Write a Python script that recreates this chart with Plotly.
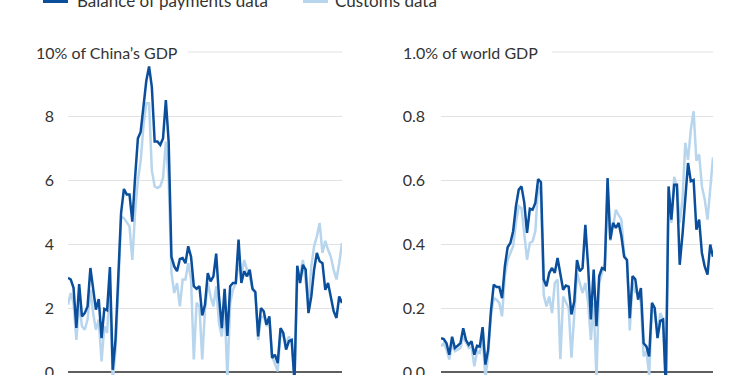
import pandas as pd
import plotly.graph_objects as go
from plotly.subplots import make_subplots

# ---- data ----
bop_china_gdp = [2.94, 2.89, 2.63, 1.38, 2.75, 1.74, 1.84, 2.05, 3.25, 2.68,
                 1.95, 2.28, 1.06, 1.97, 1.93, 3.28, 0.07, 1.0, 2.78, 4.97,
                 5.72, 5.55, 5.55, 4.7, 6.1, 7.3, 7.5, 8.4, 9.1, 9.55,
                 8.9, 7.2, 7.2, 7.1, 7.3, 8.5, 7.2, 3.6, 3.3, 3.15,
                 3.53, 3.56, 3.4, 3.93, 3.6, 2.68, 2.6, 2.68, 1.77, 2.1,
                 3.09, 2.83, 2.99, 3.7, 2.36, 1.37, 2.6, 1.13, 2.68, 2.78,
                 2.78, 4.14, 2.78, 3.15, 2.99, 3.2, 2.6, 2.5, 1.11, 2.0,
                 1.9, 1.48, 1.74, 0.44, 0.54, 0.28, 1.37, 1.22, 0.7, 0.96,
                 1.0, -0.3, 3.32, 2.78, 3.35, 3.2, 1.84, 2.36, 3.2, 3.72,
                 3.46, 3.4, 2.57, 2.78, 2.31, 1.9, 1.69, 2.36, 2.16]
customs_china_gdp = [2.1, 2.47, 2.15, 1.0, 2.15, 1.43, 1.32, 1.64, 2.57, 1.84,
                     1.32, 1.64, 0.33, 1.43, 1.22, 2.78, -0.3, 0.7, 2.57, 4.86,
                     4.81, 4.66, 4.55, 3.5, 5.0, 6.0, 6.6, 7.7, 8.4, 8.4,
                     6.3, 5.8, 5.75, 5.8, 6.06, 7.2, 6.0, 3.1, 2.47, 2.78,
                     2.05, 2.89, 2.89, 3.4, 2.9, 0.39, 2.16, 2.05, 0.39, 1.95,
                     2.78, 2.36, 2.05, 2.68, 1.53, 1.11, 2.1, -0.2, 2.16, 2.57,
                     2.78, 3.4, 2.99, 3.5, 3.2, 2.99, 2.57, 2.47, 1.0, 1.7,
                     1.74, 1.43, 1.64, 0.49, 0.28, 0.02, 1.22, 1.11, 0.9, 1.11,
                     0.9, -0.3, 2.89, 2.99, 3.5, 2.89, 2.16, 3.3, 3.93, 4.24,
                     4.66, 3.72, 4.1, 3.82, 3.6, 3.2, 2.89, 3.4, 4.03]
bop_world_gdp = [0.106, 0.103, 0.09, 0.054, 0.11, 0.075, 0.082, 0.09, 0.137, 0.10,
                 0.085, 0.096, 0.054, 0.082, 0.08, 0.14, 0.023, 0.07, 0.19, 0.273,
                 0.266, 0.266, 0.231, 0.33, 0.39, 0.403, 0.44, 0.518, 0.57, 0.58,
                 0.53, 0.435, 0.51, 0.507, 0.528, 0.603, 0.593, 0.289, 0.268, 0.31,
                 0.325, 0.31, 0.356, 0.30, 0.257, 0.27, 0.267, 0.18, 0.22, 0.35,
                 0.315, 0.325, 0.46, 0.33, 0.164, 0.32, 0.143, 0.30, 0.325, 0.32,
                 0.606, 0.414, 0.466, 0.45, 0.466, 0.424, 0.36, 0.35, 0.168, 0.30,
                 0.29, 0.226, 0.262, 0.09, 0.08, 0.049, 0.216, 0.20, 0.106, 0.16,
                 0.164, -0.05, 0.58, 0.476, 0.585, 0.585, 0.335, 0.43, 0.55, 0.653,
                 0.596, 0.60, 0.445, 0.476, 0.372, 0.33, 0.304, 0.398, 0.36]
customs_world_gdp = [0.08, 0.09, 0.07, 0.039, 0.09, 0.065, 0.07, 0.075, 0.11, 0.09,
                     0.075, 0.08, 0.018, 0.065, 0.06, 0.106, -0.02, 0.054, 0.174, 0.231,
                     0.226, 0.216, 0.174, 0.30, 0.35, 0.372, 0.393, 0.466, 0.518, 0.512,
                     0.424, 0.351, 0.403, 0.408, 0.44, 0.58, 0.55, 0.242, 0.205, 0.236,
                     0.184, 0.278, 0.289, 0.04, 0.236, 0.216, 0.20, 0.045, 0.18, 0.31,
                     0.278, 0.247, 0.278, 0.216, 0.10, 0.216, -0.02, 0.278, 0.31, 0.34,
                     0.56, 0.41, 0.455, 0.507, 0.49, 0.476, 0.367, 0.346, 0.13, 0.278,
                     0.25, 0.247, 0.216, 0.049, 0.065, -0.01, 0.205, 0.184, 0.122, 0.184,
                     0.164, -0.03, 0.56, 0.466, 0.61, 0.58, 0.466, 0.54, 0.716, 0.663,
                     0.757, 0.815, 0.66, 0.68, 0.58, 0.54, 0.476, 0.57, 0.67]
quarters = pd.date_range("1999-01-01", periods=len(bop_china_gdp), freq="QS")

left_ticks = [0, 2, 4, 6, 8]
right_ticks = [0.0, 0.2, 0.4, 0.6, 0.8]
right_ticktext = ["0.0", "0.2", "0.4", "0.6", "0.8"]
left_top_label = "10% of China\u2019s GDP"
right_top_label = "1.0% of world GDP"
series_names = ["Balance of payments data", "Customs data"]

DARK = "#0b4f9c"
LIGHT = "#b8d5ee"
TEXT = "#333333"
GRID = "#e2e2e2"
FONT = "Lato"
W, H = 750, 375

fig = make_subplots(rows=1, cols=2)

fig.add_trace(go.Scatter(x=quarters, y=customs_china_gdp, mode="lines",
                         line=dict(color=LIGHT, width=2.5), showlegend=False), 1, 1)
fig.add_trace(go.Scatter(x=quarters, y=bop_china_gdp, mode="lines",
                         line=dict(color=DARK, width=2.5), showlegend=False), 1, 1)
fig.add_trace(go.Scatter(x=quarters, y=customs_world_gdp, mode="lines",
                         line=dict(color=LIGHT, width=2.5), showlegend=False), 1, 2)
fig.add_trace(go.Scatter(x=quarters, y=bop_world_gdp, mode="lines",
                         line=dict(color=DARK, width=2.5), showlegend=False), 1, 2)

zero_px = 372.0
l_scale = 32.0   # px per unit
r_scale = 320.0
xrange_ = [quarters[0], quarters[-1]]

common_y = dict(showgrid=True, gridcolor=GRID, gridwidth=1,
                zeroline=True, zerolinecolor="#5f5f5f", zerolinewidth=1.5,
                ticks="", showline=False, ticklabeloverflow="allow",
                tickfont=dict(family=FONT, size=16, color=TEXT))
fig.update_layout(
    xaxis=dict(domain=[68 / W, 342 / W], range=xrange_, showticklabels=False,
               showgrid=False, zeroline=False),
    xaxis2=dict(domain=[441 / W, 713 / W], range=xrange_, showticklabels=False,
                showgrid=False, zeroline=False),
    yaxis=dict(domain=[0, 1], range=[-(H - zero_px) / l_scale, zero_px / l_scale],
               tickvals=left_ticks, ticklabelstandoff=13, **common_y),
    yaxis2=dict(domain=[0, 1], range=[-(H - zero_px) / r_scale, zero_px / r_scale],
                tickvals=right_ticks, ticktext=right_ticktext, ticklabelstandoff=15,
                **common_y),
    width=W, height=H,
    margin=dict(l=0, r=0, t=0, b=0, autoexpand=False),
    plot_bgcolor="white", paper_bgcolor="white",
    font=dict(family=FONT, color=TEXT, size=16),
    showlegend=False,
)

# top labels with partial gridlines
fig.add_annotation(x=34 / W, xref="paper", xanchor="left", y=10, yref="y",
                   yanchor="middle", text=left_top_label, showarrow=False,
                   font=dict(family=FONT, size=16, color=TEXT))
fig.add_shape(type="line", xref="paper", yref="y", x0=188 / W, x1=342 / W, y0=10, y1=10,
              line=dict(color=GRID, width=1))
fig.add_annotation(x=401 / W, xref="paper", xanchor="left", y=1.0, yref="y2",
                   yanchor="middle", text=right_top_label, showarrow=False,
                   font=dict(family=FONT, size=16, color=TEXT))
fig.add_shape(type="line", xref="paper", yref="y2", x0=552 / W, x1=713 / W, y0=1.0, y1=1.0,
              line=dict(color=GRID, width=1))

# legend (top, partially cut off by the frame as in the original)
for (x0, x1, tx, name, col) in [(43, 68, 75, series_names[0], DARK),
                                (303, 328, 333, series_names[1], LIGHT)]:
    fig.add_shape(type="rect", xref="paper", yref="paper",
                  x0=x0 / W, x1=x1 / W, y0=1 - 3 / H, y1=1 + 12 / H,
                  fillcolor=col, line=dict(width=0))
    fig.add_annotation(x=tx / W, xref="paper", xanchor="left", y=1.0, yref="paper",
                       yanchor="middle", text=name, showarrow=False,
                       font=dict(family=FONT, size=17, color=TEXT))

fig.write_html("out.html", config={"displayModeBar": False},
               post_script="document.body.style.margin='0';")
